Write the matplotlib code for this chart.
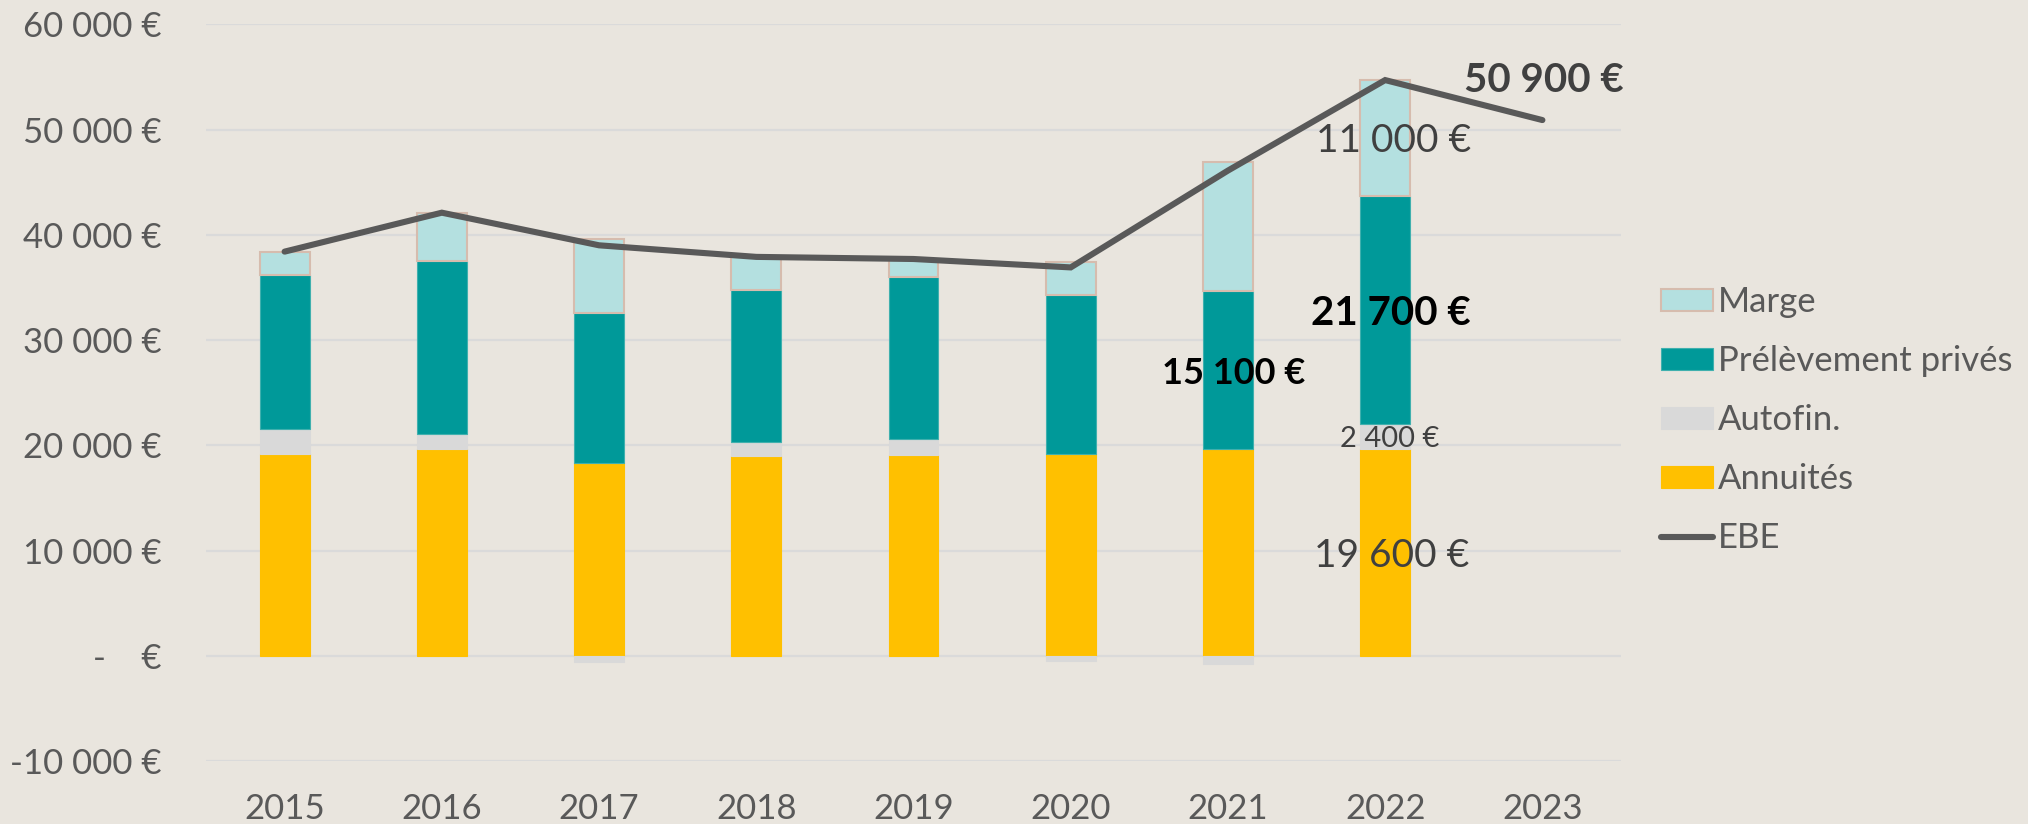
import numpy as np
import matplotlib
matplotlib.use('Agg')
import matplotlib.pyplot as plt
from matplotlib.ticker import FuncFormatter, MultipleLocator

plt.rcParams['font.family'] = ['Lato', 'DejaVu Sans']

# ---- data ----
years = ['2015', '2016', '2017', '2018', '2019', '2020', '2021', '2022', '2023']
annuites = [19200, 19600, 18300, 19000, 19100, 19200, 19600, 19600]
autofin = [2300, 1500, -600, 1300, 1500, -500, -800, 2400]
prelevement = [14700, 16400, 14300, 14500, 15400, 15100, 15100, 21700]
marge = [2200, 4600, 7000, 3100, 1700, 3100, 12200, 11000]
ebe = [38400, 42100, 39000, 37900, 37700, 36900, 46100, 54700, 50900]

series_names = ['Annuités', 'Autofin.', 'Prélèvement privés', 'Marge']

BG = '#E9E5DE'
TXT = '#595959'
colors = {'Annuités': '#FFC000', 'Autofin.': '#D9D9D9',
          'Prélèvement privés': '#009999', 'Marge': '#B4E0E0'}
edges = {'Annuités': '#FFC000', 'Autofin.': '#D9D9D9',
         'Prélèvement privés': '#3FB0AE', 'Marge': '#D6BCAE'}

fig = plt.figure(figsize=(20.28, 8.24), dpi=100, facecolor=BG)
ax = fig.add_axes([206 / 2028, 1 - 761 / 824, (1621 - 206) / 2028, (761 - 24.3) / 824])
ax.set_facecolor(BG)

n_bar = len(annuites)
x_bar = np.arange(n_bar)
x_all = np.arange(len(years))
width = 0.318

pos_bottom = np.zeros(n_bar)
neg_bottom = np.zeros(n_bar)
handles = {}
segments = {}
for name, vals in zip(series_names, [annuites, autofin, prelevement, marge]):
    v = np.array(vals, dtype=float)
    bottom = np.where(v >= 0, pos_bottom, neg_bottom)
    lw = 1.5 if name == 'Marge' else 0.8
    bc = ax.bar(x_bar, v, width, bottom=bottom, color=colors[name],
                edgecolor=edges[name], linewidth=lw, zorder=2, label=name)
    handles[name] = bc
    segments[name] = (bottom, v)
    pos_bottom = np.where(v >= 0, pos_bottom + v, pos_bottom)
    neg_bottom = np.where(v < 0, neg_bottom + v, neg_bottom)

line, = ax.plot(x_all, ebe, color='#595959', linewidth=4.4, zorder=3,
                solid_capstyle='round', solid_joinstyle='miter', label='EBE')

ax.set_xlim(-0.5, len(years) - 0.5)
ax.set_ylim(-10000, 60000)
ax.yaxis.set_major_locator(MultipleLocator(10000))


def fmt(v, pos):
    if abs(v) < 1e-6:
        return '-    €'
    s = f"{v:,.0f}".replace(',', ' ')
    return s + ' €'


ax.yaxis.set_major_formatter(FuncFormatter(fmt))
ax.set_xticks(x_all)
ax.set_xticklabels(years)
ax.tick_params(axis='both', length=0, labelsize=25, labelcolor=TXT)
ax.tick_params(axis='y', pad=32)
ax.tick_params(axis='x', pad=23)
for s in ax.spines.values():
    s.set_visible(False)
ax.grid(axis='y', color='#DADADA', linewidth=1.6, zorder=0)
ax.set_axisbelow(True)

# ---- data labels ----
def seg_mid(name, i):
    b, v = segments[name]
    return b[i] + v[i] / 2


def euro(v):
    return f"{v:,.0f} €".replace(',', ' ')


i22 = 7
i21 = 6
ax.annotate(euro(marge[i22]), xy=(i22, seg_mid('Marge', i22)),
            xytext=(6, 0), textcoords='offset points', ha='center', va='center_baseline',
            fontsize=28, color='#404040', zorder=4)
ax.annotate(euro(prelevement[i22]), xy=(i22, seg_mid('Prélèvement privés', i22)),
            xytext=(4, 0), textcoords='offset points', ha='center', va='center_baseline',
            fontsize=29, fontweight='bold', color='black', zorder=4)
ax.annotate(euro(autofin[i22]), xy=(i22, seg_mid('Autofin.', i22)),
            xytext=(3, 0), textcoords='offset points', ha='center', va='center_baseline',
            fontsize=21, color='#404040', zorder=4)
ax.annotate(euro(annuites[i22]), xy=(i22, seg_mid('Annuités', i22)),
            xytext=(5, 0), textcoords='offset points', ha='center', va='center_baseline',
            fontsize=28, color='#404040', zorder=4)
ax.annotate(euro(prelevement[i21]), xy=(i21, seg_mid('Prélèvement privés', i21)),
            xytext=(4, 0), textcoords='offset points', ha='center', va='center_baseline',
            fontsize=26, fontweight='bold', color='black', zorder=4)
ax.annotate(euro(ebe[-1]), xy=(len(years) - 1, ebe[-1]),
            xytext=(1, 31), textcoords='offset points', ha='center', va='center_baseline',
            fontsize=29, fontweight='bold', color='#404040', zorder=4)

# ---- legend ----
leg_handles = [handles['Marge'], handles['Prélèvement privés'], handles['Autofin.'],
               handles['Annuités'], line]
leg_labels = ['Marge', 'Prélèvement privés', 'Autofin.', 'Annuités', 'EBE']
leg = fig.legend(leg_handles, leg_labels, loc='center left',
                 bbox_to_anchor=(1661 / 2028, 1 - 420 / 824), frameon=False,
                 fontsize=25, labelcolor=TXT, handlelength=1.5, handleheight=0.6,
                 handletextpad=0.15, labelspacing=0.78, borderpad=0, borderaxespad=0)

fig.savefig('out.png', dpi=100, facecolor=BG)
